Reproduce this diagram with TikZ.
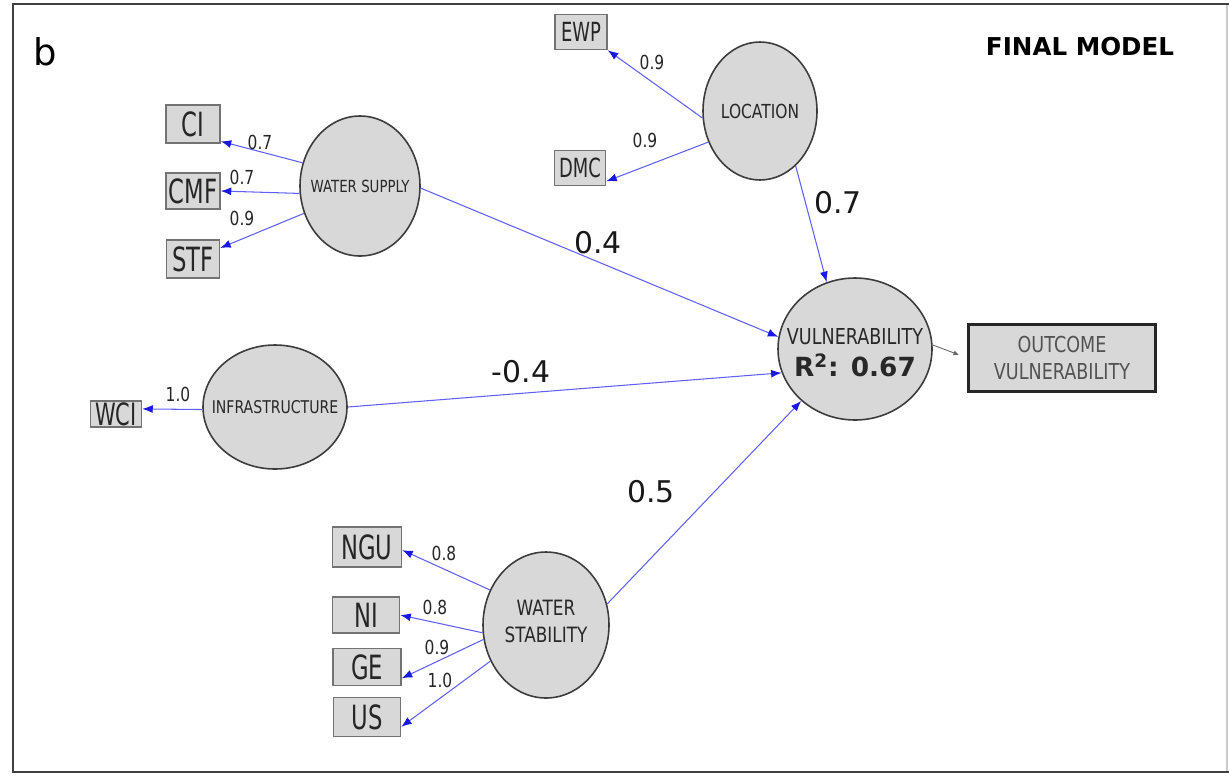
\documentclass[tikz,border=0pt]{standalone}
\usepackage{fontspec}
\setmainfont{DejaVu Sans}
\newfontfamily\narrowfont[FakeStretch=0.8]{DejaVu Sans}
\newfontfamily\boxfont[FakeStretch=0.68]{DejaVu Sans}
\usetikzlibrary{arrows.meta,shapes.geometric}
\definecolor{pathblue}{RGB}{95,95,245}
\definecolor{tipblue}{RGB}{25,25,225}
\definecolor{shade}{RGB}{216,216,216}
\definecolor{rim}{RGB}{60,60,60}
\definecolor{ink}{RGB}{40,40,40}
\newcommand{\pxl}[1]{#1*0.02cm}
\tikzset{
  latent/.style={ellipse, draw=rim, line width=0.9pt, fill=shade, inner sep=0pt},
  caption/.style={text=ink, font=\narrowfont\fontsize{#1}{#1}\selectfont, align=center, inner sep=0pt},
  indicator/.style={rectangle, draw=black!55, line width=0.8pt, fill=shade, inner sep=0pt,
    text=black!85, font=\boxfont\fontsize{19}{19}\selectfont},
  load/.style={draw=pathblue, line width=0.6pt, -{Latex[length=6pt,width=4.5pt,color=tipblue]}},
  small/.style={font=\narrowfont\fontsize{11}{11}\selectfont, text=black!85},
  big/.style={font=\fontsize{17}{17}\selectfont, text=black!90},
}
\begin{document}
\begin{tikzpicture}[x=0.02cm, y=-0.02cm]
\useasboundingbox (0,0) rectangle (1229,778);
% panel frame
\draw[black!20, line width=0.6pt] (1227,4) -- (1227,772);
\draw[black!75, line width=1.4pt] (1229,4) -- (13,4) -- (13,772) -- (1229,772);

\node[font=\fontsize{21}{21}\selectfont] (tag) at (45,52) {b};
\node[font=\bfseries\fontsize{14}{14}\selectfont] (title) at (1080,47) {FINAL MODEL};

% latent variables (captions kept as centre labels so the ellipse keeps its size)
\node[latent, minimum width=\pxl{120}, minimum height=\pxl{140},
  label={[caption=9.5]center:WATER SUPPLY}] (ws) at (360,186) {};
\node[latent, minimum width=\pxl{114}, minimum height=\pxl{138},
  label={[caption=11]center:LOCATION}] (loc) at (760,111) {};
\node[latent, minimum width=\pxl{144}, minimum height=\pxl{124},
  label={[caption=10]center:INFRASTRUCTURE}] (infra) at (275,407) {};
\node[latent, minimum width=\pxl{126}, minimum height=\pxl{146},
  label={[caption=12, yshift=2pt]center:{WATER\\[3pt]STABILITY}}] (wst) at (546,625) {};
\node[latent, minimum width=\pxl{154}, minimum height=\pxl{142},
  label={[caption=12.5, yshift=-2pt]center:{VULNERABILITY\\[4pt]{\rmfamily\bfseries\fontsize{15}{15}\selectfont R\textsuperscript{2}: 0.67}}}] (vul) at (855,349) {};

% indicators
\node[indicator, minimum width=\pxl{54}, minimum height=\pxl{38}] (ci) at (193,124) {CI};
\node[indicator, minimum width=\pxl{54}, minimum height=\pxl{36}] (cmf) at (193,191) {CMF};
\node[indicator, minimum width=\pxl{53}, minimum height=\pxl{38}] (stf) at (193,259) {STF};
\node[indicator, minimum width=\pxl{52}, minimum height=\pxl{35}, font=\boxfont\fontsize{15}{15}\selectfont] (ewp) at (581,32) {EWP};
\node[indicator, minimum width=\pxl{51}, minimum height=\pxl{35}, font=\boxfont\fontsize{15}{15}\selectfont] (dmc) at (580,168) {DMC};
\node[indicator, minimum width=\pxl{51}, minimum height=\pxl{26}, font=\boxfont\fontsize{17.5}{17.5}\selectfont] (wci) at (116,414) {WCI};
\node[indicator, minimum width=\pxl{69}, minimum height=\pxl{40}] (ngu) at (367,547) {NGU};
\node[indicator, minimum width=\pxl{67}, minimum height=\pxl{36}] (ni) at (366,615) {NI};
\node[indicator, minimum width=\pxl{68}, minimum height=\pxl{37}] (ge) at (367,667) {GE};
\node[indicator, minimum width=\pxl{67}, minimum height=\pxl{39}] (us) at (367,717) {US};

% outcome
\node[rectangle, draw=black!85, line width=1.4pt, fill=shade, inner sep=0pt, align=center,
  minimum width=\pxl{187}, minimum height=\pxl{67}, text=black!68,
  font=\narrowfont\fontsize{12.5}{15}\selectfont] (out) at (1062,358) {OUTCOME\\VULNERABILITY};

% measurement paths
\draw[load] (ws.158) -- (ci.-32);
\draw[load] (ws.187) -- (cmf.east);
\draw[load] (ws.206) -- (stf.22);
\draw[load] (loc.187) -- (ewp.south east);
\draw[load] (loc.211) -- (dmc.-27);
\draw[load] (infra.182) -- (wci.11);
\draw[load] (wst.148) -- (ngu.-5);
\draw[load] (wst.187) -- (ni.east);
\draw[load] (wst.193) -- (ge.-18);
\draw[load] (wst.213) -- (us.-16);

% structural paths
\draw[load] (ws.-2) -- (vul.171);
\draw[load] (infra.east) -- (vul.198);
\draw[load] (loc.-57) -- (vul.113);
\draw[load] (wst.19) -- (vul.224);
\draw[black!60, line width=0.5pt, shorten >=\pxl{9}, -{Latex[length=3pt,width=3pt]}] (vul.3) -- (out.west);

% loadings
\node[small] (l1) at (260,142) {0.7};
\node[small] (l2) at (242,177) {0.7};
\node[small] (l3) at (242,218) {0.9};
\node[small] (l4) at (652,62) {0.9};
\node[small] (l5) at (645,140) {0.9};
\node[small] (l6) at (178,394) {1.0};
\node[small] (l7) at (444,553) {0.8};
\node[small] (l8) at (435,607) {0.8};
\node[small] (l9) at (437,647) {0.9};
\node[small] (l10) at (440,680) {1.0};

% path coefficients
\node[big] (c1) at (598,243) {0.4};
\node[big] (c2) at (838,203) {0.7};
\node[big] (c3) at (521,372) {-0.4};
\node[big] (c4) at (651,492) {0.5};
\end{tikzpicture}
\end{document}
